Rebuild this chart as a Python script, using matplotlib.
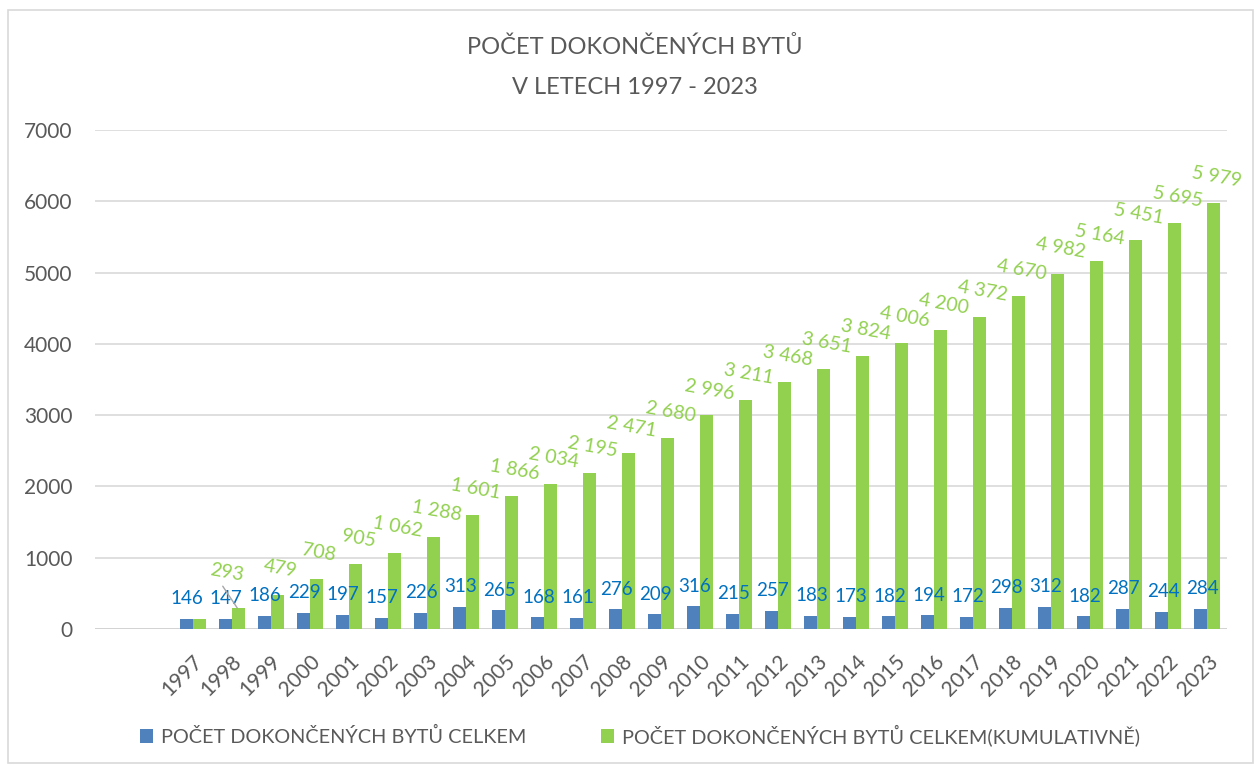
import matplotlib.pyplot as plt
from matplotlib.patches import Rectangle
import numpy as np

years = [str(y) for y in range(1997, 2024)]
byty = [146, 147, 186, 229, 197, 157, 226, 313, 265, 168, 161, 276, 209, 316,
        215, 257, 183, 173, 182, 194, 172, 298, 312, 182, 287, 244, 284]
byty_kum = [146, 293, 479, 708, 905, 1062, 1288, 1601, 1866, 2034, 2195, 2471,
            2680, 2996, 3211, 3468, 3651, 3824, 4006, 4200, 4372, 4670, 4982,
            5164, 5451, 5695, 5979]

blue = '#4F81BD'
green = '#92D050'
label_blue = '#0070C0'
gray = '#595959'

plt.rcParams['font.family'] = ['Lato', 'DejaVu Sans']

fig = plt.figure(figsize=(12.55, 7.65), dpi=100)
ax = fig.add_axes([95 / 1255, 136 / 765, (1227 - 95) / 1255, (629 - 130) / 765])

x = np.arange(len(years))
w = 0.333
b1 = ax.bar(x - w / 2, byty, w, color=blue, zorder=3)
b2 = ax.bar(x + w / 2, byty_kum, w, color=green, zorder=3)

ax.set_xlim(-2.5, len(years) - 0.5)
ax.set_ylim(0, 7000)
ax.set_yticks(range(0, 7001, 1000))
ax.grid(axis='y', color='#D9D9D9', linewidth=1.2, zorder=0)
for s in ['top', 'right', 'left', 'bottom']:
    ax.spines[s].set_visible(False)
ax.axhline(0, color='#D0D0D0', linewidth=1.8, zorder=2)
ax.tick_params(axis='y', length=0, pad=16, labelsize=15, labelcolor=gray)
ax.set_xticks(x)
ax.set_xticklabels(years, rotation=45, ha='right', rotation_mode='anchor',
                   fontsize=15, color=gray)
ax.tick_params(axis='x', length=0, pad=16)

# popisky modrych sloupcu
for xi, v in zip(x, byty):
    ax.annotate(str(v), (xi - w / 2, v), xytext=(1, 20), textcoords='offset pixels',
                ha='center', va='center', fontsize=13.5, color=label_blue, zorder=5)

# popisky zelenych sloupcu (kumulativne)
for i, (xi, v) in enumerate(zip(x, byty_kum)):
    if i == 0:
        continue
    txt = f'{v:,}'.replace(',', ' ')
    if i == 1:
        ax.annotate(txt, (xi + w / 2 - 0.02, v), xytext=(-11, 36),
                    textcoords='offset pixels', ha='center', va='center',
                    fontsize=14, color=green, rotation=-10, zorder=5,
                    arrowprops=dict(arrowstyle='-', color='#A6A6A6', lw=1,
                                    shrinkA=0, shrinkB=0, relpos=(0.35, 0.0)))
        continue
    ax.annotate(txt, (xi + w / 2, v), xytext=(3, 26), textcoords='offset pixels',
                ha='center', va='center', fontsize=14, color=green,
                rotation=-10, zorder=5)

fig.text(635 / 1255, 1 - 47 / 765, 'POČET DOKONČENÝCH BYTŮ', ha='center',
         va='center', fontsize=17, color=gray)
fig.text(635 / 1255, 1 - 87 / 765, 'V LETECH 1997 - 2023', ha='center',
         va='center', fontsize=17, color=gray)

leg = fig.legend([b1, b2], ['POČET DOKONČENÝCH BYTŮ CELKEM',
                            'POČET DOKONČENÝCH BYTŮ CELKEM(KUMULATIVNĚ)'],
                 loc='center', bbox_to_anchor=(640 / 1255, 1 - 735 / 765),
                 ncol=2, frameon=False, fontsize=14.3, handlelength=0.65,
                 handleheight=0.65, handletextpad=0.4, columnspacing=3.8)
for t in leg.get_texts():
    t.set_color(gray)

fig.patches.append(Rectangle((8 / 1255, 2 / 765), 1245 / 1255, 753 / 765,
                             transform=fig.transFigure, fill=False,
                             edgecolor='#D9D9D9', linewidth=1.2))

fig.savefig('out.png', dpi=100)
